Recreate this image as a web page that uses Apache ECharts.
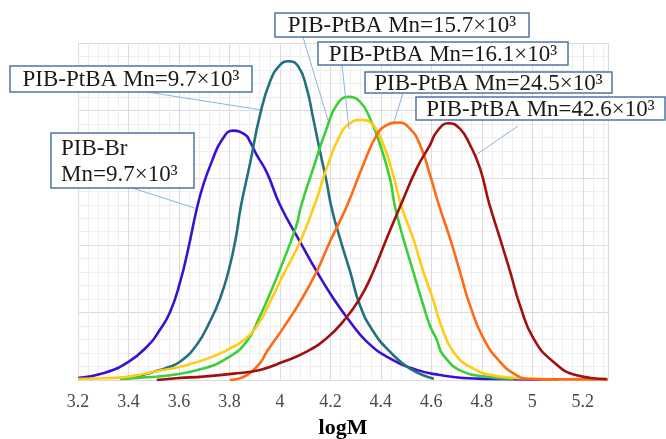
<!DOCTYPE html>
<html><head><meta charset="utf-8">
<script src="https://cdn.jsdelivr.net/npm/echarts@6/dist/echarts.min.js"></script>
<style>html,body{margin:0;padding:0;background:#fff}#c{width:666px;height:439px}</style>
</head><body><div id="c"></div>
<script>
// ---- data (logM vs. normalized signal) ----
const xTickLabels = ['3.2','3.4','3.6','3.8','4','4.2','4.4','4.6','4.8','5','5.2'];
const axisTitle = 'logM';

const brX = [3.20,3.30,3.40,3.48,3.52,3.565,3.605,3.637,3.67,3.696,3.73,3.77,3.815,3.862,3.881,3.908,3.948,4.00,4.08,4.146,4.212,4.278,4.344,4.436,4.542,4.634,4.725,4.85,5.0,5.1];
const brY = [0.03,0.10,0.27,0.52,0.72,1.01,1.46,1.95,2.53,2.89,3.24,3.56,3.70,3.64,3.54,3.34,3.08,2.60,2.05,1.61,1.21,0.865,0.57,0.32,0.15,0.074,0.03,0.015,0.01,0.01];

const p97X = [3.366,3.43,3.498,3.55,3.604,3.67,3.723,3.763,3.796,3.825,3.845,3.881,3.921,3.961,4.0,4.033,4.073,4.106,4.132,4.159,4.185,4.205,4.238,4.278,4.317,4.370,4.436,4.515,4.61];
const p97Y = [0.02,0.05,0.12,0.18,0.27,0.52,0.87,1.21,1.61,2.10,2.57,3.2,3.93,4.43,4.67,4.73,4.65,4.33,3.88,3.39,2.94,2.55,2.10,1.61,1.11,0.72,0.42,0.17,0.02];

const p157X = [3.366,3.45,3.565,3.696,3.789,3.868,3.921,3.948,4.013,4.066,4.083,4.132,4.185,4.225,4.271,4.317,4.357,4.397,4.436,4.456,4.489,4.528,4.568,4.595,4.621,4.647,4.727,4.819,4.924];
const p157Y = [0.015,0.035,0.07,0.17,0.32,0.57,0.95,1.17,1.76,2.30,2.57,3.14,3.73,4.08,4.20,4.13,3.88,3.49,2.99,2.57,2.10,1.61,1.11,0.80,0.60,0.37,0.12,0.05,0.02];

const p161X = [3.20,3.30,3.366,3.498,3.63,3.736,3.829,3.881,3.921,3.948,4.013,4.08,4.143,4.185,4.238,4.278,4.324,4.37,4.41,4.449,4.482,4.528,4.568,4.608,4.634,4.687,4.766,4.859,4.964,5.1];
const p161Y = [0.015,0.025,0.035,0.12,0.22,0.35,0.52,0.67,0.87,1.06,1.56,2.05,2.66,3.14,3.63,3.81,3.86,3.78,3.49,3.04,2.57,2.10,1.61,1.18,0.86,0.42,0.17,0.06,0.025,0.01];

const p245X = [3.802,3.868,3.921,3.948,4.013,4.08,4.146,4.198,4.264,4.33,4.383,4.423,4.469,4.515,4.555,4.595,4.628,4.674,4.713,4.753,4.806,4.872,4.938,4.991,5.1,5.2,5.3];
const p245Y = [0,0.07,0.25,0.42,0.77,1.16,1.61,2.05,2.57,3.19,3.63,3.78,3.82,3.73,3.49,3.04,2.62,2.10,1.61,1.11,0.62,0.27,0.07,0.015,0.01,0.01,0.01];

const p426X = [3.512,3.6,3.696,3.829,3.921,4.013,4.106,4.185,4.251,4.317,4.37,4.423,4.476,4.542,4.595,4.621,4.667,4.713,4.753,4.793,4.829,4.872,4.912,4.951,5.004,5.083,5.176,5.295];
const p426Y = [0,0.03,0.05,0.10,0.15,0.27,0.42,0.62,0.87,1.21,1.61,2.10,2.57,3.14,3.49,3.68,3.81,3.73,3.49,3.14,2.62,2.10,1.61,1.11,0.62,0.27,0.07,0.015];

const seriesNames = ['PIB-Br','PIB-PtBA 9.7','PIB-PtBA 15.7','PIB-PtBA 16.1','PIB-PtBA 24.5','PIB-PtBA 42.6'];
const annotationTexts = ['PIB-PtBA Mn=9.7×10³','PIB-Br\nMn=9.7×10³','PIB-PtBA Mn=15.7×10³','PIB-PtBA Mn=16.1×10³','PIB-PtBA Mn=24.5×10³','PIB-PtBA Mn=42.6×10³'];
// leader-line target points on curves (data coords)
const anchorX = [3.921,3.664,4.190,4.274,4.452,4.777];
const anchorY = [4.01,2.55,3.86,3.72,3.83,3.34];

// ---- styles / layout ----
const colors = ['#3c10d2','#23707f','#3ccf3c','#ffcb16','#ff6a16','#a10f0f'];
const allX = [brX,p97X,p157X,p161X,p245X,p426X];
const allY = [brY,p97Y,p157Y,p161Y,p245Y,p426Y];
const boxes = [ // [left, top, width, height]
  [10,66,242,26],[51,133,143,55],[275,13,254,24],[318,42,250,23],[365,72,247,21],[416,97,249,23]
];
const leaderStart = [[147,92],[132,188],[303,37],[342,65],[403,93],[518,126]];
const FONT = '"Liberation Serif","Times New Roman",serif';

const chart = echarts.init(document.getElementById('c'));
const series = allX.map((xs,i)=>({
  name: seriesNames[i], type:'line', xAxisIndex:1, yAxisIndex:0,
  data: xs.map((x,j)=>[x, allY[i][j]]),
  smooth:0.5, showSymbol:false, symbol:'none',
  lineStyle:{color:colors[i], width:2.6}, z: 3
}));
chart.setOption({
  animation:false,
  grid:{left:78,right:58,top:43,bottom:59,outerBoundsMode:'none',containLabel:false},
  xAxis:[
    {type:'value',min:3.2,max:5.3,interval:0.04,z:0,
     axisLine:{show:false},axisTick:{show:false},axisLabel:{show:false},
     splitLine:{show:true,lineStyle:{color:'#eeeeee',width:1}}},
    {type:'value',min:3.2,max:5.3,interval:0.2,position:'bottom',z:1,
     axisLine:{show:false},axisTick:{show:false},
     axisLabel:{showMaxLabel:false,margin:13,color:'#4a4a4a',fontSize:18,fontFamily:FONT,
       formatter:(v)=>{const s=String(Math.round(v*10)/10);return xTickLabels.includes(s)?s:'';}},
     splitLine:{show:true,lineStyle:{color:'#dcdcdc',width:1}},
     name:axisTitle,nameLocation:'middle',nameGap:37,
     nameTextStyle:{fontFamily:FONT,fontWeight:'bold',fontSize:22,color:'#000'}}
  ],
  yAxis:{type:'value',min:0,max:5,interval:1,
    axisLine:{show:false},axisTick:{show:false},axisLabel:{show:false},
    splitLine:{show:true,lineStyle:{color:'#dcdcdc'}},
    minorTick:{show:false,splitNumber:5},
    minorSplitLine:{show:true,lineStyle:{color:'#eeeeee'}}},
  series: series
});

const elements = [];
annotationTexts.forEach((t,i)=>{
  const end = chart.convertToPixel({xAxisIndex:1,yAxisIndex:0},[anchorX[i],anchorY[i]]);
  elements.push({type:'line',z:20,shape:{x1:leaderStart[i][0],y1:leaderStart[i][1],x2:end[0],y2:end[1]},
    style:{stroke:'#8fb3dd',lineWidth:1}});
});
annotationTexts.forEach((t,i)=>{
  const b = boxes[i];
  elements.push({type:'rect',z:21,shape:{x:b[0],y:b[1],width:b[2],height:b[3]},
    style:{fill:'#fff',stroke:'#4f76a5',lineWidth:1.5}});
  elements.push({type:'text',z:22,x:i===1?b[0]+10:b[0]+b[2]/2,y:b[1]+b[3]/2+1,
    style:{text:t,font:'23px '+FONT,fill:'#1a1a1a',align:i===1?'left':'center',verticalAlign:'middle',lineHeight:26}});
});
chart.setOption({graphic:{elements}});
</script></body></html>
